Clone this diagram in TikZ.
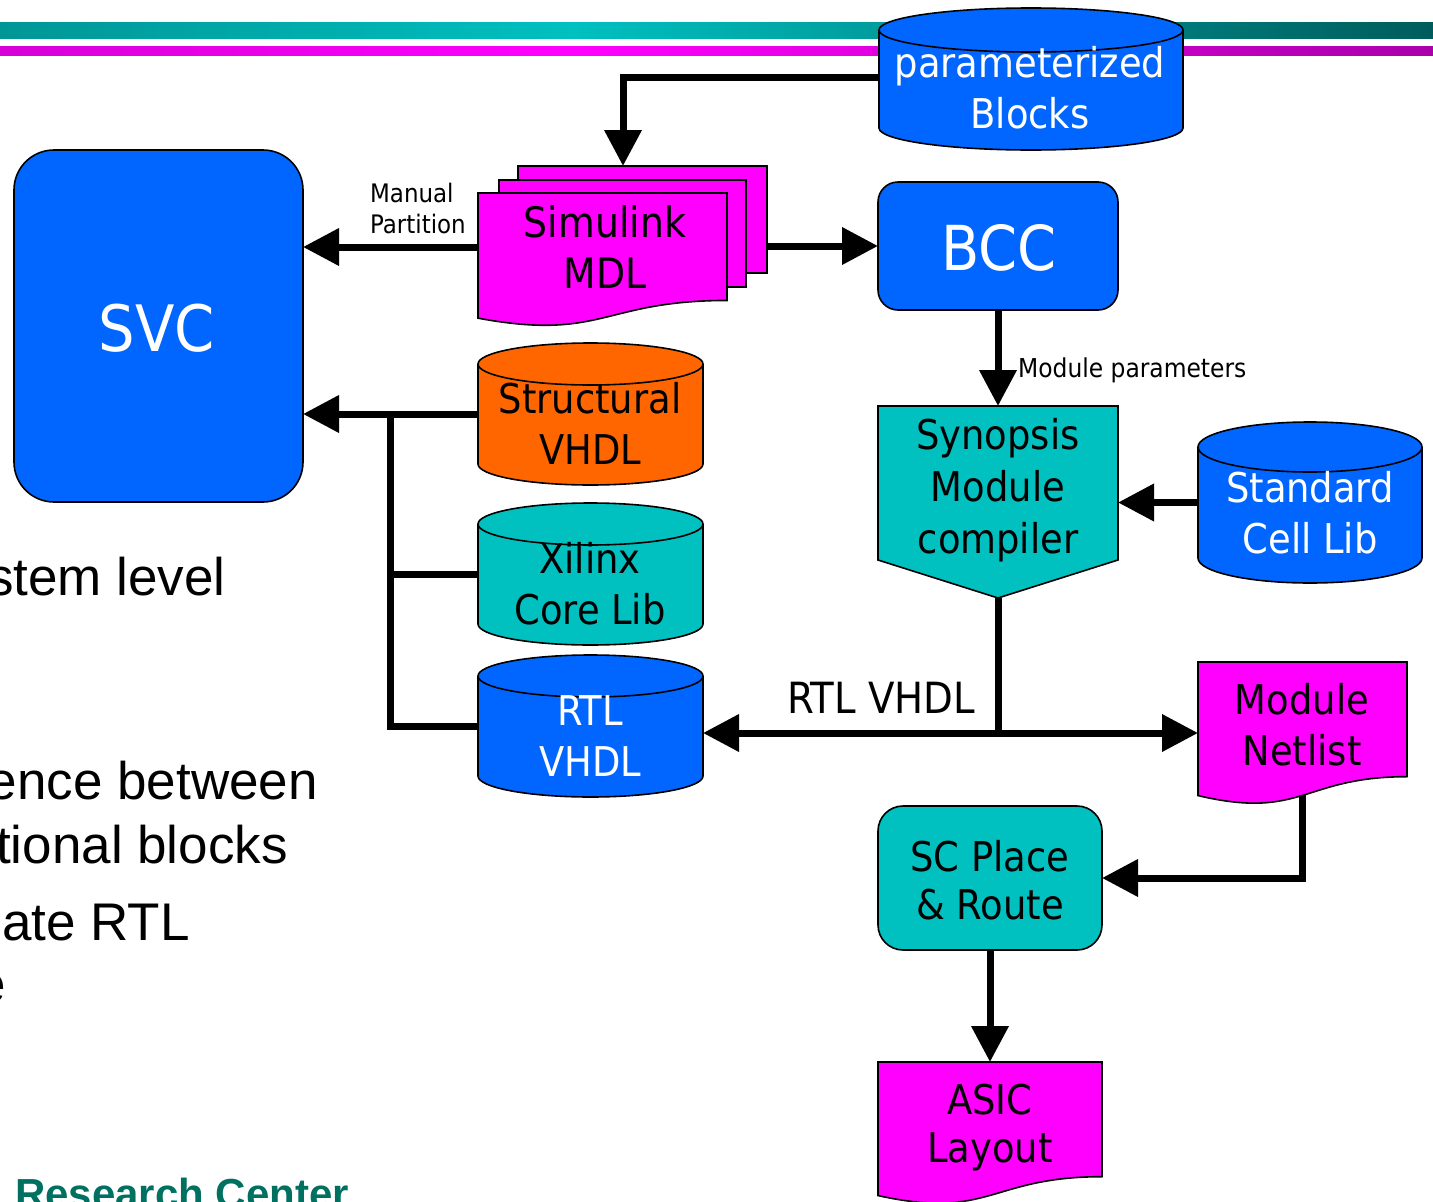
\documentclass[tikz,border=0pt]{standalone}
\usepackage{fontspec}
\setmainfont{DejaVu Sans Condensed}
\newfontfamily\arialf{Liberation Sans}
\usetikzlibrary{arrows.meta}
\definecolor{pblue}{RGB}{0,102,255}
\definecolor{pmag}{RGB}{255,0,255}
\definecolor{pteal}{RGB}{0,192,192}
\definecolor{porange}{RGB}{255,102,0}
\definecolor{rcgreen}{RGB}{0,112,96}
\definecolor{tA}{RGB}{0,150,150}
\definecolor{tB}{RGB}{0,192,192}
\definecolor{tC}{RGB}{0,92,92}
\definecolor{mA}{RGB}{215,0,215}
\definecolor{mB}{RGB}{255,0,255}
\definecolor{mC}{RGB}{170,0,170}
\pgfdeclarehorizontalshading{tealbar}{100bp}{color(0bp)=(tA); color(25bp)=(tA); color(45bp)=(tB); color(75bp)=(tC); color(100bp)=(tC)}
\pgfdeclarehorizontalshading{magbar}{100bp}{color(0bp)=(mA); color(25bp)=(mA); color(45bp)=(mB); color(75bp)=(mC); color(100bp)=(mC)}
\tikzset{
  outl/.style={draw=black, line width=1.6pt},
  shp/.style={inner sep=0pt, outer sep=0pt, draw=none},
  txt/.style={inner sep=0pt, align=center, font=\fontsize{41}{51}\selectfont},
  small/.style={inner sep=0pt, font=\fontsize{25.5}{31}\selectfont},
  lefttxt/.style={inner sep=0pt, anchor=base east, font=\arialf\fontsize{53}{60}\selectfont},
  conn/.style={line width=7pt, line cap=butt, line join=miter},
  arr/.style={conn, -{Triangle[length=36pt,width=36pt]}},
  rbox/.style={outl, inner sep=0pt, outer sep=0pt},
}
\newcommand\mycyl[6]{%
  \fill[#6] (#1,#3) rectangle (#2,#4);
  \fill[#6] ({(#1+#2)/2},#4) ellipse[x radius={(#2-#1)/2}, y radius=#5];
  \draw[outl] (#1,#3) -- (#1,#4) (#2,#3) -- (#2,#4);
  \begin{scope}
    \clip ({#1-5},#4) rectangle ({#2+5},{#4+#5+5});
    \draw[outl] ({(#1+#2)/2},#4) ellipse[x radius={(#2-#1)/2}, y radius=#5];
  \end{scope}
  \filldraw[fill=#6, outl] ({(#1+#2)/2},#3) ellipse[x radius={(#2-#1)/2}, y radius=#5];
}
\newcommand\mydoc[5]{%
  \filldraw[fill=#5, outl] (#1,#3) -- (#2,#3) -- (#2,{#3+0.802*#4})
    .. controls ({(#1+#2)/2},{#3+0.802*#4}) and ({(#1+#2)/2},{#3+1.107*#4}) .. (#1,{#3+0.934*#4}) -- cycle;
}
\begin{document}
\begin{tikzpicture}[x=1pt, y=-1pt]
\useasboundingbox (0,0) rectangle (1433,1202);
\clip (0,0) rectangle (1433,1202);

% title bars
\shade[shading=tealbar] (0,22) rectangle (1433,38);
\shade[shading=magbar] (0,46) rectangle (1433,55);

% left slide text (cut off)
\node[lefttxt] (t1) at (226,595) {stem level};
\node[lefttxt] (t2) at (318,799) {ence between};
\node[lefttxt] (t3) at (288,863) {tional blocks};
\node[lefttxt] (t4) at (190,940) {ate RTL};
\node[lefttxt] (t5) at (6,1002) {e};
\node[inner sep=0pt, anchor=base west, text=rcgreen, font=\arialf\bfseries\fontsize{42}{48}\selectfont] (rc) at (15,1208) {Research Center};

% parameterized blocks cylinder
\mycyl{879}{1183}{30}{128}{22}{pblue}
\node[shp, minimum width=304pt, minimum height=142pt] (pb) at (1031,79) {};
\node[txt, text=white] (pbT) at (1030,88) {parameterized\\Blocks};

% SVC
\node[rbox, fill=pblue, rounded corners=40pt, minimum width=289pt, minimum height=352pt] (svc) at (158.5,326) {};
\node[inner sep=0pt, text=white, font=\fontsize{64}{70}\selectfont] (svcT) at (157,328.5) {SVC};

% Simulink MDL stack
\filldraw[fill=pmag, outl] (518,166) rectangle (767,273);
\filldraw[fill=pmag, outl] (499,180) rectangle (746,287);
\mydoc{478}{727}{193}{134}{pmag}
\node[shp, minimum width=249pt, minimum height=107pt] (simB) at (642.5,219.5) {};
\node[shp, minimum width=249pt, minimum height=133pt] (simF) at (602.5,259.5) {};
\node[txt, font=\fontsize{42}{51}\selectfont] (simT) at (605,247) {Simulink\\MDL};

% BCC
\node[rbox, fill=pblue, rounded corners=20pt, minimum width=240pt, minimum height=128pt] (bcc) at (998,246) {};
\node[inner sep=0pt, text=white, font=\fontsize{62}{70}\selectfont] (bccT) at (999,248) {BCC};

% Synopsis module compiler
\filldraw[fill=pteal, outl] (878,406) -- (1118,406) -- (1118,560) -- (998,598) -- (878,560) -- cycle;
\node[shp, minimum width=240pt, minimum height=192pt] (syn) at (998,502) {};
\node[txt, font=\fontsize{41}{52}\selectfont] (synT) at (998,490) {Synopsis\\Module\\compiler};

% Standard Cell Lib
\mycyl{1198}{1422}{447}{558}{25}{pblue}
\node[shp, minimum width=224pt, minimum height=161pt] (std) at (1310,502.5) {};
\node[txt, text=white] (stdT) at (1310,512.5) {Standard\\Cell Lib};

% middle cylinders
\mycyl{478}{703}{364}{464}{21}{porange}
\node[shp, minimum width=225pt, minimum height=142pt] (struct) at (590.5,414) {};
\node[txt] (structT) at (590,423.5) {Structural\\VHDL};

\mycyl{478}{703}{524}{624}{21}{pteal}
\node[shp, minimum width=225pt, minimum height=142pt] (xil) at (590.5,574) {};
\node[txt] (xilT) at (590,583.5) {Xilinx\\Core Lib};

\mycyl{478}{703}{676}{776}{21}{pblue}
\node[shp, minimum width=225pt, minimum height=142pt] (rtl) at (590.5,726) {};
\node[txt, text=white] (rtlT) at (590,736) {RTL\\VHDL};

% Module Netlist
\mydoc{1198}{1407}{662}{143}{pmag}
\node[shp, minimum width=209pt, minimum height=139pt] (net) at (1302.5,731.5) {};
\node[txt] (netT) at (1302,725) {Module\\Netlist};

% SC Place & Route
\node[rbox, fill=pteal, rounded corners=25pt, minimum width=224pt, minimum height=144pt] (scpr) at (990,878) {};
\node[txt, font=\fontsize{41}{48}\selectfont] (scprT) at (990,880.5) {SC Place\\\& Route};

% ASIC Layout
\mydoc{878}{1102}{1062}{143}{pmag}
\node[shp, minimum width=224pt, minimum height=140pt] (asic) at (990,1132) {};
\node[txt, font=\fontsize{41}{48}\selectfont] (asicT) at (990,1127.5) {ASIC\\Layout};

% labels
\node[small, align=left, anchor=north west] (mp) at (370,183) {Manual\\Partition};
\node[small, font=\fontsize{26}{31}\selectfont, anchor=base west] (modp) at (1018,377) {Module parameters};
\node[txt, font=\fontsize{43}{51}\selectfont, anchor=base west] (rtllab) at (787,713) {RTL VHDL};

% connectors
\draw[arr] ([yshift=2pt]pb.west) -| ([xshift=-19.5pt]simB.north);
\draw[arr] ([yshift=12.5pt]simF.west) -- ([yshift=12.5pt]simF.west -| svc.east);
\draw[arr] (simB.east |- bcc.west) -- (bcc.west);
\draw[arr] (bcc.south) -- (syn.north);
\draw[arr] (std.west) -- (syn.east |- std.west);
\coordinate (junc) at (syn.south |- 0,733);
\draw[conn] (syn.south) -- (junc);
\draw[arr] (junc) -- (junc -| net.west);
\draw[arr] (junc) -- (junc -| rtl.east);
\draw[arr] ([yshift=6pt]net.south) |- (scpr.east);
\draw[arr] (scpr.south) -- (asic.north);
\coordinate (busx) at (390,414);
\draw[arr] (struct.west) -- (struct.west -| svc.east);
\draw[conn] (xil.west) -- (xil.west -| busx);
\draw[conn] (rtl.west) -| ([yshift=3.5pt]busx);
\end{tikzpicture}
\end{document}
